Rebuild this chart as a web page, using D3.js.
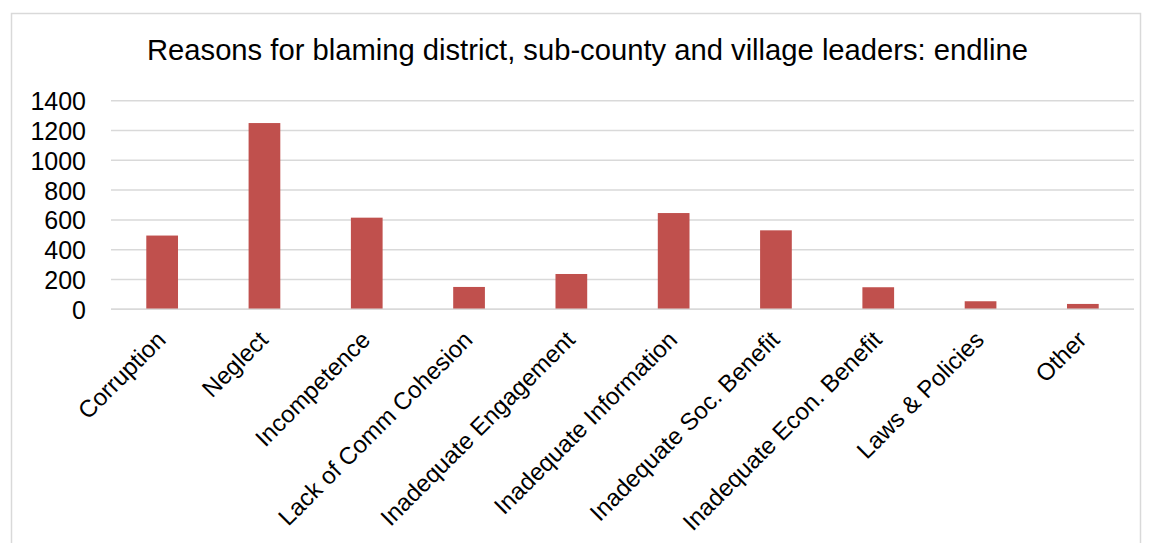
<!DOCTYPE html>
<html>
<head>
<meta charset="utf-8">
<script src="https://cdn.jsdelivr.net/npm/d3@7"></script>
<style>
  html, body { margin: 0; padding: 0; background: #fff; }
  svg { display: block; font-family: "Liberation Sans", Arial, sans-serif; }
</style>
</head>
<body>
<svg id="chart" width="1151" height="543"></svg>
<script>
// Reasons given for blaming leaders (endline counts)
const categories = [
  "Corruption", "Neglect", "Incompetence", "Lack of Comm Cohesion",
  "Inadequate Engagement", "Inadequate Information", "Inadequate Soc. Benefit",
  "Inadequate Econ. Benefit", "Laws & Policies", "Other"
];
const counts = [495, 1250, 615, 150, 237, 646, 530, 148, 54, 36];
const yTicks = [0, 200, 400, 600, 800, 1000, 1200, 1400];
const chartTitle = "Reasons for blaming district, sub-county and village leaders: endline";

const svg = d3.select("#chart");
const plot = { left: 111, right: 1134, top: 100.7, bottom: 309.3 };

// chart frame
svg.append("rect")
  .attr("x", 11.5).attr("y", 13.5)
  .attr("width", 1129).attr("height", 540)
  .attr("fill", "#fff").attr("stroke", "#d9d9d9").attr("stroke-width", 1.5);

const x = d3.scaleBand().domain(categories)
  .range([plot.left, plot.right]).paddingInner(0.69).paddingOuter(0.345);
const y = d3.scaleLinear().domain([0, 1400]).range([plot.bottom, plot.top]);

// horizontal gridlines
svg.append("g").selectAll("line").data(yTicks).join("line")
  .attr("x1", plot.left).attr("x2", plot.right)
  .attr("y1", d => y(d)).attr("y2", d => y(d))
  .attr("stroke", "#d9d9d9").attr("stroke-width", 1.5);

// y axis labels
const yAxis = d3.axisLeft(y).tickValues(yTicks).tickFormat(d3.format("d"))
  .tickSize(0).tickPadding(0);
const gy = svg.append("g").attr("transform", `translate(86,0)`).call(yAxis);
gy.select(".domain").remove();
gy.selectAll("text")
  .attr("font-family", "Liberation Sans, Arial, sans-serif")
  .attr("font-size", 25).attr("fill", "#000").attr("dy", "0.36em");

// bars
svg.append("g").selectAll("rect").data(categories).join("rect")
  .attr("x", d => x(d))
  .attr("width", x.bandwidth())
  .attr("y", (d, i) => y(counts[i]))
  .attr("height", (d, i) => y(0) - y(counts[i]))
  .attr("fill", "#c0504d");

// baseline
svg.append("line")
  .attr("x1", plot.left).attr("x2", plot.right)
  .attr("y1", y(0)).attr("y2", y(0))
  .attr("stroke", "#d9d9d9").attr("stroke-width", 1.5);

// category labels, rotated
const xAxis = d3.axisBottom(x).tickSize(0).tickPadding(0);
const gx = svg.append("g").attr("transform", `translate(0,${y(0)})`).call(xAxis);
gx.select(".domain").remove();
gx.selectAll("text")
  .attr("font-family", "Liberation Sans, Arial, sans-serif")
  .attr("font-size", 24).attr("fill", "#000")
  .attr("text-anchor", "end")
  .attr("dy", null).attr("y", null)
  .attr("transform", "translate(5,32) rotate(-45)");

// title
svg.append("text")
  .attr("x", 587.5).attr("y", 60)
  .attr("text-anchor", "middle")
  .attr("font-size", 29.2).attr("fill", "#000")
  .text(chartTitle);
</script>
</body>
</html>
